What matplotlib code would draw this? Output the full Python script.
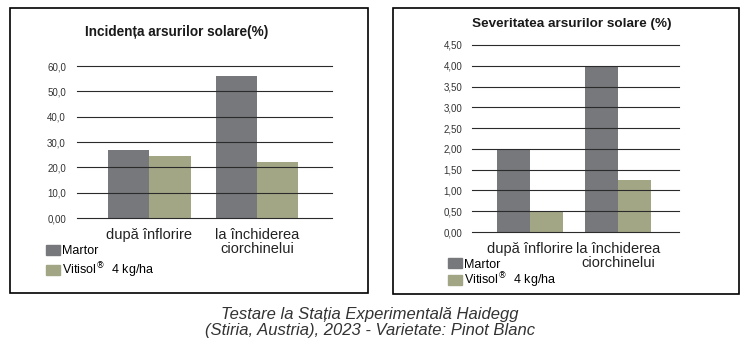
import numpy as np
import matplotlib
matplotlib.use("Agg")
import matplotlib.pyplot as plt
from matplotlib.patches import Rectangle, Patch

plt.rcParams["font.family"] = ["Liberation Sans", "DejaVu Sans"]

# data
categories = ["după înflorire", "la închiderea\nciorchinelui"]
series = ["Martor", "Vitisol$^{\\circledR}$  4 kg/ha"]
incidence_martor = [27.0, 56.0]
incidence_vitisol = [24.4, 22.0]
severity_martor = [2.0, 4.0]
severity_vitisol = [0.5, 1.25]
incidence_ticks = [0, 10, 20, 30, 40, 50, 60]
incidence_ticklabels = ["0,00", "10,0", "20,0", "30,0", "40,0", "50,0", "60,0"]
severity_ticks = [0, 0.5, 1, 1.5, 2, 2.5, 3, 3.5, 4, 4.5]
severity_ticklabels = ["0,00", "0,50", "1,00", "1,50", "2,00", "2,50",
                       "3,00", "3,50", "4,00", "4,50"]

c_martor = "#77787c"
c_vitisol = "#a3a685"

W, H = 750, 351
fig = plt.figure(figsize=(W / 100, H / 100), dpi=100)


def px_axes(x0, y0, x1, y1):
    # pixel box (top-left origin) -> figure axes
    return fig.add_axes([x0 / W, 1 - y1 / H, (x1 - x0) / W, (y1 - y0) / H])


def box(x0, y0, x1, y1):
    fig.patches.append(Rectangle((x0 / W, 1 - y1 / H), (x1 - x0) / W, (y1 - y0) / H,
                                 transform=fig.transFigure, fill=False,
                                 edgecolor="black", linewidth=1.2))


def draw_panel(ax, martor, vitisol, ticks, ticklabels, xlim, width, pad):
    x = np.arange(len(categories))
    ax.bar(x - width / 2, martor, width, color=c_martor, zorder=1)
    ax.bar(x + width / 2, vitisol, width, color=c_vitisol, zorder=1)
    ax.set_ylim(ticks[0], ticks[-1])
    ax.set_xlim(*xlim)
    ax.set_yticks(ticks)
    ax.set_yticklabels(ticklabels, fontsize=7, color="#333333")
    for t in ticks:
        ax.axhline(t, color="#2b2b2b", linewidth=0.8, zorder=2, clip_on=False)
    ax.set_xticks(x)
    ax.set_xticklabels(categories, fontsize=10.5, color="#222222", linespacing=1.05)
    ax.tick_params(axis="both", length=0)
    ax.tick_params(axis="y", pad=pad)
    ax.tick_params(axis="x", pad=7)
    for s in ax.spines.values():
        s.set_visible(False)
    ax.patch.set_alpha(0)


handles = [Patch(color=c_martor), Patch(color=c_vitisol)]

# left panel
box(10, 8, 368, 293)
ax1 = px_axes(77, 66, 332, 218)
draw_panel(ax1, incidence_martor, incidence_vitisol, incidence_ticks,
           incidence_ticklabels, (-0.671, 1.696), 0.385, 8)
fig.text(177 / W, 1 - 32 / H, "Incidența arsurilor solare(%)", fontsize=9.8,
         fontweight="bold", ha="center", va="center", color="#1a1a1a")
fig.legend(handles, series, loc="upper left",
           bbox_to_anchor=(46 / W, 1 - 245 / H), frameon=False, fontsize=9,
           handlelength=1.1, handleheight=0.9, handletextpad=0.2,
           labelspacing=0.22, borderpad=0, borderaxespad=0)

# right panel
box(393, 8, 739, 294)
ax2 = px_axes(472, 45, 679, 232)
draw_panel(ax2, severity_martor, severity_vitisol, severity_ticks,
           severity_ticklabels, (-0.659, 1.693), 0.38, 7)
fig.text(572 / W, 1 - 24 / H, "Severitatea arsurilor solare (%)", fontsize=9.7,
         fontweight="bold", ha="center", va="center", color="#1a1a1a")
fig.legend(handles, series, loc="upper left",
           bbox_to_anchor=(448 / W, 1 - 258 / H), frameon=False, fontsize=9,
           handlelength=1.1, handleheight=0.9, handletextpad=0.2,
           labelspacing=0.02, borderpad=0, borderaxespad=0)

# caption
fig.text(370 / W, 1 - 314 / H, "Testare la Stația Experimentală Haidegg",
         fontsize=12, style="italic", ha="center", va="center", color="#333333")
fig.text(370 / W, 1 - 331 / H, "(Stiria, Austria), 2023 - Varietate: Pinot Blanc",
         fontsize=12, style="italic", ha="center", va="center", color="#333333")

fig.savefig("out.png", dpi=100)
